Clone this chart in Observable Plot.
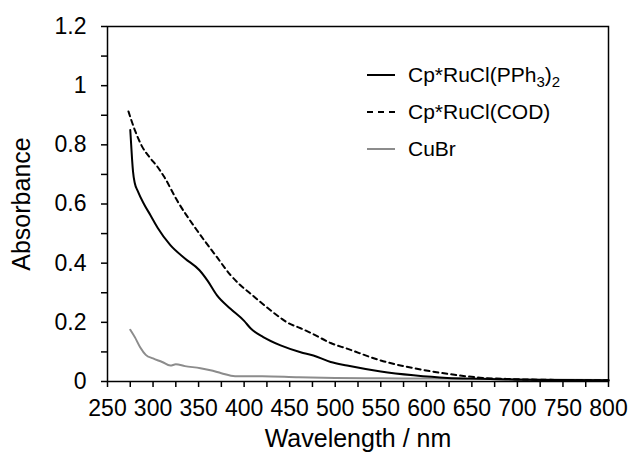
<!DOCTYPE html>
<html><head><meta charset="utf-8">
<script src="https://cdn.jsdelivr.net/npm/d3@7"></script>
<script src="https://cdn.jsdelivr.net/npm/@observablehq/plot@0.6"></script>
<style>
body{margin:0;background:#fff;}
#wrap{position:relative;width:630px;height:456px;font-family:"Liberation Sans",Arial,sans-serif;color:#000;}
.leg{position:absolute;left:367px;height:24px;display:flex;align-items:center;font-size:21px;white-space:nowrap;}
.leg svg{margin-right:13px;}
.leg sub{font-size:15px;vertical-align:-5px;line-height:0;}
</style></head><body><div id="wrap"></div>
<script>
// Series names (legend)
const seriesNames = ["Cp*RuCl(PPh<sub>3</sub>)<sub>2</sub>", "Cp*RuCl(COD)", "CuBr"];

// Cp*RuCl(PPh3)2
const pphWl = [275,276,277,278,280,283,290,297,305,319,335,351,360,370,385,400,407,421,440,462,476,495,513,550,586,623,659,700,750,800];
const pphAbs = [0.85,0.80,0.75,0.71,0.67,0.645,0.60,0.563,0.52,0.461,0.416,0.376,0.34,0.292,0.246,0.205,0.180,0.150,0.122,0.099,0.088,0.066,0.054,0.034,0.021,0.012,0.009,0.006,0.005,0.004];

// Cp*RuCl(COD)
const codWl = [273,280,288,297,305,312,326,348,370,385,396,407,422,440,447,462,476,495,513,550,586,623,659,696,750,800];
const codAbs = [0.913,0.85,0.794,0.755,0.725,0.693,0.614,0.512,0.421,0.36,0.325,0.297,0.258,0.215,0.200,0.180,0.160,0.130,0.111,0.071,0.045,0.026,0.013,0.008,0.005,0.004];

// CuBr
const cubrWl = [275,280,286,292,300,310,319,325,335,352,363,375,390,420,460,500,550,600,650,700,750,800];
const cubrAbs = [0.175,0.15,0.115,0.09,0.078,0.066,0.054,0.058,0.052,0.045,0.038,0.028,0.018,0.018,0.014,0.012,0.011,0.010,0.009,0.008,0.006,0.005];

// Ticks
const xTicks = [250,300,350,400,450,500,550,600,650,700,750,800];
const xMinor = [275,325,375,425,475,525,575,625,675,725,775];
const yTicks = [0,0.2,0.4,0.6,0.8,1,1.2];
const yMinor = [0.1,0.3,0.5,0.7,0.9,1.1];

const toRows = (wl, ab) => wl.map((w, i) => ({w, a: ab[i]}));
const pph = toRows(pphWl, pphAbs);
const cod = toRows(codWl, codAbs);
const cubr = toRows(cubrWl, cubrAbs);

const styles = [
  {stroke:"#000", strokeWidth:2, dash:null},
  {stroke:"#000", strokeWidth:2, dash:"5,4"},
  {stroke:"#8c8c8c", strokeWidth:2, dash:null}
];

const plot = Plot.plot({
  width:630, height:456,
  marginLeft:107, marginRight:22, marginTop:26, marginBottom:75,
  style:{fontFamily:"'Liberation Sans', Arial, sans-serif", fontSize:"23px", color:"#000", background:"#fff", overflow:"visible"},
  x:{domain:[250,800]},
  y:{domain:[0,1.2]},
  marks:[
    Plot.axisX({ticks:xTicks, tickSize:6, tickPadding:12, fontSize:23, tickFormat:d=>String(d), label:null, strokeWidth:1.5}),
    Plot.axisX({ticks:xMinor, tickSize:6, tickFormat:()=>"", label:"Wavelength / nm", labelAnchor:"center", labelOffset:65, labelArrow:"none", fontSize:25, strokeWidth:1.5}),
    Plot.axisY({ticks:yTicks, tickSize:6, tickPadding:15, fontSize:23, tickFormat:d=>String(+d.toFixed(1)), label:null, strokeWidth:1.5}),
    Plot.axisY({ticks:yMinor, tickSize:6, tickFormat:()=>"", label:"Absorbance", labelAnchor:"center", labelOffset:95, labelArrow:"none", fontSize:25, strokeWidth:1.5}),
    Plot.line(cubr, {x:"w", y:"a", stroke:styles[2].stroke, strokeWidth:styles[2].strokeWidth, curve:"monotone-x"}),
    Plot.line(pph, {x:"w", y:"a", stroke:styles[0].stroke, strokeWidth:styles[0].strokeWidth, curve:"monotone-x"}),
    Plot.line(cod, {x:"w", y:"a", stroke:styles[1].stroke, strokeWidth:styles[1].strokeWidth, strokeDasharray:styles[1].dash, curve:"monotone-x"}),
    Plot.frame({stroke:"#000", strokeWidth:1.5})
  ]
});
const wrap = document.getElementById("wrap");
wrap.appendChild(plot);

const legTops = [63, 100, 137];
seriesNames.forEach((name, i) => {
  const d = document.createElement("div");
  d.className = "leg";
  d.style.top = legTops[i] + "px";
  const s = styles[i];
  d.innerHTML = `<svg width="28" height="24"><line x1="0" x2="28" y1="12" y2="12" stroke="${s.stroke}" stroke-width="2" ${s.dash ? `stroke-dasharray="6,5"` : ""}/></svg><span>${name}</span>`;
  wrap.appendChild(d);
});
</script></body></html>
